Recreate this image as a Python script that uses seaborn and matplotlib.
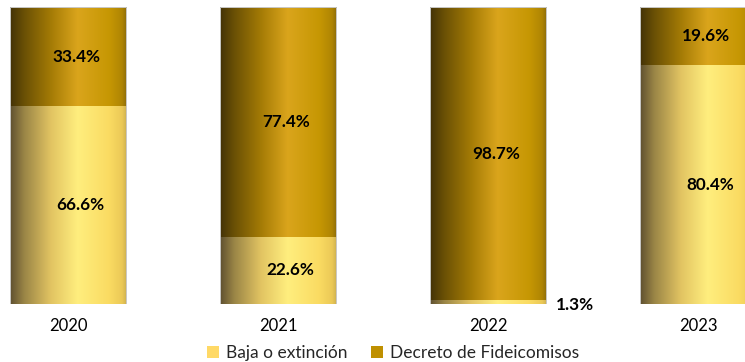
import numpy as np
import pandas as pd
import matplotlib
matplotlib.use("Agg")
import matplotlib.pyplot as plt
from matplotlib.colors import LinearSegmentedColormap
from matplotlib.patches import Patch
import seaborn as sns

# Data
years = ["2020", "2021", "2022", "2023"]
baja = [66.6, 22.6, 1.3, 80.4]
decreto = [33.4, 77.4, 98.7, 19.6]
series_names = ["Baja o extinción", "Decreto de Fideicomisos"]

sns.set_theme(style="white")
plt.rcParams["font.family"] = ["Lato", "DejaVu Sans"]

light_base = "#FFD966"
gold_base = "#BF9000"

# Horizontal shading for a cylinder-like look
light_cmap = LinearSegmentedColormap.from_list(
    "light",
    [(0.0, "#5E5030"), (0.12, "#9A8546"), (0.35, "#E2C462"),
     (0.58, "#FFEE7E"), (0.85, "#FADB62"), (0.96, "#EBC957"), (1.0, "#CDB050")],
)
gold_cmap = LinearSegmentedColormap.from_list(
    "gold",
    [(0.0, "#433208"), (0.12, "#6A5005"), (0.35, "#A47B06"),
     (0.58, "#DAA51C"), (0.85, "#C69703"), (0.96, "#AF8504"), (1.0, "#8C6C0A")],
)

df = pd.DataFrame({"year": years, "baja": baja, "decreto": decreto})
df["total"] = df["baja"] + df["decreto"]

fig = plt.figure(figsize=(7.45, 3.62), dpi=100)
ax = fig.add_axes([0, 0.160, 1, 0.821])

bar_w = 0.557
sns.barplot(data=df, x="year", y="total", color=gold_base, width=bar_w,
            ax=ax, saturation=1)
sns.barplot(data=df, x="year", y="baja", color=light_base, width=bar_w,
            ax=ax, saturation=1)

grad = np.linspace(0, 1, 256).reshape(1, -1)
for z, (container, cmap) in enumerate(zip(ax.containers, [gold_cmap, light_cmap])):
    for patch in container:
        x0, y0 = patch.get_x(), patch.get_y()
        w, h = patch.get_width(), patch.get_height()
        im = ax.imshow(grad, cmap=cmap, aspect="auto",
                       extent=(x0, x0 + w, y0, y0 + h),
                       origin="lower", zorder=2 + z, interpolation="bicubic")
        im.set_clip_path(patch)
        patch.set_facecolor("none")
        patch.set_edgecolor("none")

# Thin outline around each full bar
for patch in ax.containers[0]:
    ax.add_patch(plt.Rectangle((patch.get_x(), 0), patch.get_width(), 100,
                               fill=False, edgecolor="#C9C9C9", linewidth=0.7,
                               zorder=5))

# Value labels
lbl = dict(fontsize=12.3, fontweight="bold", color="black", zorder=6)
for i, (b, d) in enumerate(zip(baja, decreto)):
    left = ax.containers[0][i].get_x()
    right = left + bar_w
    if b < 5:
        ax.text(right + 0.045, b / 2 - 1.0, f"{b:.1f}%", ha="left",
                va="center", **lbl)
    else:
        ax.text(i + 0.06, b / 2, f"{b:.1f}%", ha="center", va="center", **lbl)
    ax.text(i + 0.04, b + d / 2, f"{d:.1f}%", ha="center", va="center", **lbl)

ax.set_ylim(0, 100)
ax.set_xlim(-0.3238, -0.3238 + 745 / 210)
ax.set_xlabel("")
ax.set_ylabel("")
ax.set_yticks([])
ax.tick_params(axis="x", length=0, pad=10, labelsize=12, labelcolor="black")
for s in ax.spines.values():
    s.set_visible(False)

handles = [Patch(facecolor=light_base, edgecolor="none"),
           Patch(facecolor=gold_base, edgecolor="none")]
fig.legend(handles, series_names, loc="center", bbox_to_anchor=(0.5275, 0.025),
           ncol=2, frameon=False, fontsize=12.5, handlelength=0.7,
           handleheight=0.7, handletextpad=0.35, columnspacing=1.4,
           borderaxespad=0)

fig.savefig("out.png", dpi=100)
